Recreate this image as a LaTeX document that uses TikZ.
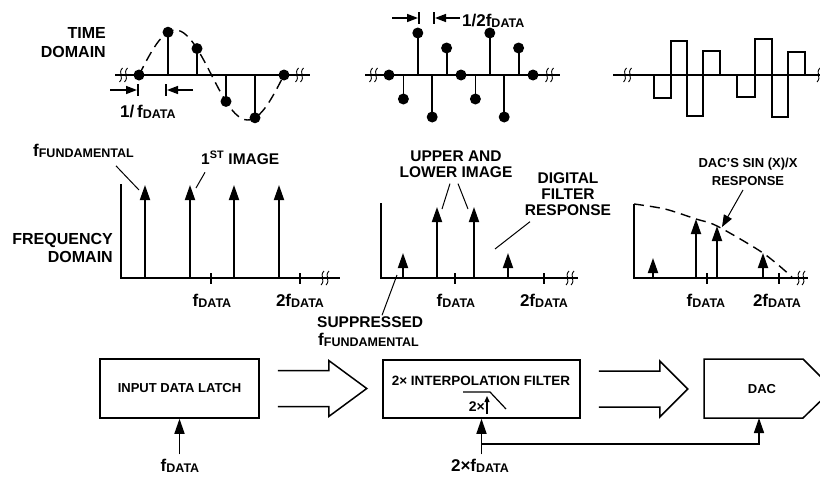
\documentclass[tikz,border=0pt]{standalone}
\usepackage{fontspec}
\setmainfont{Liberation Sans}
\usetikzlibrary{arrows.meta, positioning, calc}

\newcommand{\fsub}[1]{f{\fontsize{12.5}{12.5}\selectfont\raisebox{-1.5pt}{#1}}}

\begin{document}
\begin{tikzpicture}[x=1pt, y=-1pt,
    lbl/.style={font=\fontsize{15.5}{17}\selectfont\bfseries, inner sep=0pt, align=center},
    flbl/.style={font=\fontsize{17}{18}\selectfont\bfseries, inner sep=0pt, anchor=base},
    blklbl/.style={font=\fontsize{13}{15}\selectfont\bfseries, inner sep=0pt, align=center},
    axis/.style={line width=2pt, line join=miter},
    stem/.style={line width=1.8pt},
    spec/.style={line width=1.8pt, -{Triangle[length=15pt, width=10pt]}},
    lead/.style={line width=1pt},
    dim/.style={line width=1.5pt, -{Triangle[length=11pt, width=8pt]}},
    zoh/.style={line width=1.5pt},
    curve/.style={line width=1.4pt, dash pattern=on 10pt off 6pt},
    blokbox/.style={draw, line width=1.5pt, minimum height=58pt, inner sep=0pt},
    clk/.style={line width=1.5pt, -{Triangle[length=15pt, width=10pt]}},
    fat/.style={line width=1.5pt, line join=miter},
    brk/.pic={\foreach \d in {-2.5,2.5}
      \draw[line width=0.9pt] (\d+1.5,-7) .. controls (\d-3.5,-2) and (\d+3.5,2) .. (\d-1.5,7);}
  ]
  \useasboundingbox (0,0) rectangle (820,479);

  % time domain, samples
  \node[lbl, anchor=east, align=right, font=\fontsize{16}{19}\selectfont\bfseries] (tdom) at (106,43) {TIME\\DOMAIN};
  \draw[axis] (115,75) -- (310,75);
  \pic at (123.5,75) {brk};
  \pic at (299.5,75) {brk};
  \draw[curve] plot[domain=0:145, samples=60] ({139+\x}, {75-45*sin(2.48276*\x)});
  \foreach \i in {0,...,5} {
    \pgfmathsetmacro{\x}{139+29*\i}
    \pgfmathsetmacro{\v}{45*sin(72*\i)}
    \draw[stem] (\x,75) -- (\x,{75-\v});
    \fill (\x,{75-\v}) circle (5.5pt);
  }
  \draw[dim] (110,90) -- (137,90);
  \draw[zoh] (138,84) -- (138,96);
  \draw[dim] (193,90) -- (167,90);
  \draw[zoh] (166,84) -- (166,96);
  \node[flbl, anchor=base west] (per1) at (120,117) {1/\,\fsub{DATA}};

  % time domain, 2x interpolated
  \draw[axis] (365,75) -- (560,75);
  \pic at (373.5,75) {brk};
  \pic at (549.5,75) {brk};
  \foreach \v [count=\i from 0] in {0,-24,42,-42,27,0,-24,42,-42,27,0} {
    \pgfmathsetmacro{\x}{389+14.4*\i}
    \draw[stem] (\x,75) -- (\x,{75-\v});
    \fill (\x,{75-\v}) circle (5.5pt);
  }
  \draw[dim] (392,18) -- (418,18);
  \draw[zoh] (419,12) -- (419,24);
  \draw[dim] (460,18) -- (435,18);
  \draw[zoh] (434,12) -- (434,24);
  \node[flbl, anchor=base west] (per2) at (462,26) {1/2\fsub{DATA}};

  % time domain, DAC output
  \draw[axis] (613,75) -- (820,75);
  \pic at (627.5,75) {brk};
  \pic at (821,75) {brk};
  \draw[zoh] (654,75) |- (671,98) |- (687,41) |- (703,116) |- (720,51) |- (737,75)
    |- (755,97) |- (772,39) |- (788,117) |- (805,52) -- (805,75);

  % frequency domain, input
  \node[lbl, anchor=east, align=right, font=\fontsize{16}{18}\selectfont\bfseries] (fdom) at (113,248) {FREQUENCY\\DOMAIN};
  \draw[axis] (121,184) -- (121,278) -- (340,278);
  \pic at (325,278) {brk};
  \foreach \x in {211,300} \draw[axis] (\x,273) -- (\x,284);
  \foreach \x [count=\i] in {145,190,234,279}
    \draw[spec] (\x,278) -- (\x,185) coordinate (L\i);
  \node[flbl] (fa1) at (212,306) {\fsub{DATA}};
  \node[flbl] (fb1) at (300,306) {2\fsub{DATA}};
  \node[flbl, anchor=base west] (ffund) at (33,156) {\fsub{FUNDAMENTAL}};
  \node[lbl, anchor=base west] (img1) at (201,164) {1\textsuperscript{ST} IMAGE};
  \draw[lead] ($(ffund.south east)+(-18,8)$) -- ($(L1)+(-6,5)$);
  \draw[lead] ($(img1.south west)+(4,8)$) -- ($(L2)+(6,3)$);

  % frequency domain, after filter
  \draw[axis] (381,203) -- (381,278) -- (578,278);
  \pic at (570,278) {brk};
  \foreach \x in {455,544} \draw[axis] (\x,273) -- (\x,284);
  \foreach \x/\t [count=\i] in {403/253, 437/207, 474/207, 508/253}
    \draw[spec] (\x,278) -- (\x,\t) coordinate (M\i);
  \node[flbl] (fa2) at (456,306) {\fsub{DATA}};
  \node[flbl] (fb2) at (544,306) {2\fsub{DATA}};
  \node[lbl, font=\fontsize{15.5}{16}\selectfont\bfseries] (upl) at (456,164) {UPPER AND\\LOWER IMAGE};
  \node[lbl, font=\fontsize{15.5}{16}\selectfont\bfseries] (dig) at (568,194) {DIGITAL\\FILTER\\RESPONSE};
  \node[lbl, anchor=west] (supp) at (317,322) {SUPPRESSED};
  \node[flbl, anchor=base west] (suppf) at (318,345) {\fsub{FUNDAMENTAL}};
  \draw[lead] ($(upl.south)+(-6,6)$) -- ($(M2)+(5,2)$);
  \draw[lead] ($(upl.south)+(2,6)$) -- ($(M3)+(-6,2)$);
  \draw[lead] ($(dig.south)+(-38,6)$) -- ($(M4)+(-13,-4)$);
  \draw[lead] ($(supp.north west)+(65,-1)$) -- ($(M1)+(-6,22)$);

  % frequency domain, DAC output
  \draw[axis] (634,204) -- (634,278) -- (808,278);
  \pic at (801,278) {brk};
  \foreach \x in {707,779} \draw[axis] (\x,273) -- (\x,284);
  \draw[curve] plot[smooth] coordinates {(634,204) (665,209) (696,219) (717,226) (763,253) (792,277)};
  \foreach \x/\t [count=\i] in {653/258, 696/219, 717/226, 763/253}
    \draw[spec] (\x,278) -- (\x,\t) coordinate (R\i);
  \node[flbl] (fa3) at (706,306) {\fsub{DATA}};
  \node[flbl] (fb3) at (777,306) {2\fsub{DATA}};
  \node[blklbl, font=\fontsize{13}{18}\selectfont\bfseries] (sinc) at (748,172) {DAC'S SIN (X)/X\\RESPONSE};
  \draw[lead, -{Triangle[length=12pt, width=9pt]}] ($(sinc.south)+(-5,4)$) -- ($(R3)+(5,1)$);

  % block diagram
  \node[blokbox, blklbl, minimum width=159pt, minimum height=59pt] (latch) at (179.5,388.5) {INPUT DATA LATCH};
  \node[blokbox, minimum width=197pt] (filt) at (481.5,389) {};
  \node[blklbl, font=\fontsize{13.5}{15}\selectfont\bfseries] (filtlbl) at (481,381) {2× INTERPOLATION FILTER};
  \draw[line width=1.2pt] (463,392) -- (490,392) -- (506,409);
  \node[blklbl, anchor=east, font=\fontsize{14}{15}\selectfont\bfseries] (twox) at (485,407) {2×};
  \draw[line width=1.2pt, -{Triangle[length=6pt, width=5pt]}] (487,414) -- (487,396);
  \node[blklbl] (dac) at (762,389) {DAC};
  \draw[line width=1.5pt, line join=miter] (704,359) -- (803,359) -- (833,389) -- (803,418) -- (704,418) -- cycle;

  \draw[fat] ($(latch.east)+(18,-18)$) -- ++(51,0) -- ++(0,-10) -- ++(38,28) -- ++(-38,28) -- ++(0,-10) -- ++(-51,0);
  \draw[fat] ($(filt.east)+(18,-18)$) -- ++(61,0) -- ++(0,-10) -- ++(28,28) -- ++(-28,28) -- ++(0,-10) -- ++(-61,0);

  \node[flbl, inner sep=4pt] (fd1) at (180,471) {\fsub{DATA}};
  \node[flbl, inner sep=4pt] (fd2) at (480,471) {2×\fsub{DATA}};
  \draw[clk] (fd1.north -| latch.south) -- (latch.south);
  \draw[clk] (fd2.north -| filt.south) -- (filt.south);
  \coordinate (tap) at ($(filt.south)+(0,25)$);
  \coordinate (dacclk) at (759,418);
  \draw[clk] (tap) -| (dacclk);
\end{tikzpicture}
\end{document}
